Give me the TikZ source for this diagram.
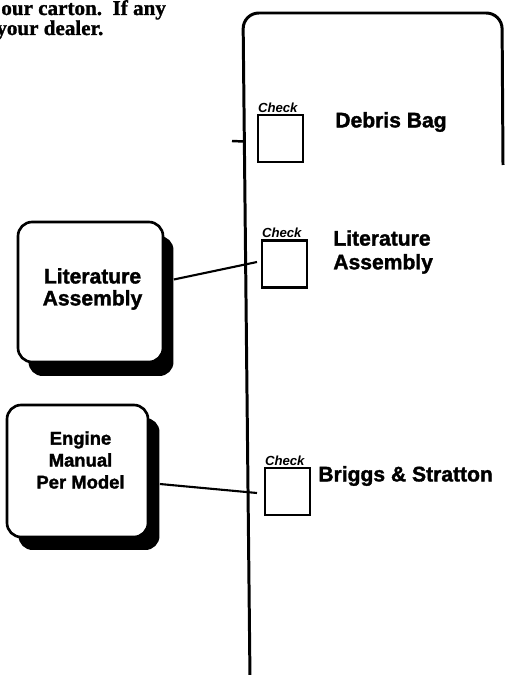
\documentclass[tikz,border=0pt]{standalone}
\usepackage{fontspec}
\setmainfont{Liberation Sans}[BoldFeatures={FakeBold=1.6}]
\newfontfamily\cartonfont{Liberation Serif}[BoldFeatures={FakeBold=1.2}]
\usetikzlibrary{positioning,calc}

\begin{document}
\begin{tikzpicture}[x=0.02cm, y=-0.02cm,
    carton/.style={font=\cartonfont\fontsize{12}{12}\selectfont\bfseries, inner sep=0pt, anchor=base west},
    chkbox/.style={draw, line width=1.4pt, minimum width=0.9cm, minimum height=0.94cm, inner sep=0pt},
    chktag/.style={font=\fontsize{7.5}{8}\selectfont\bfseries\itshape, inner sep=0.5pt, anchor=south west},
    partname/.style={font=\fontsize{12}{13.5}\selectfont\bfseries, align=left, anchor=west, inner sep=0pt},
    sheet/.style={draw, fill=white, line width=1.5pt, rounded corners=8pt, inner sep=0pt},
    sheetshadow/.style={fill=black, rounded corners=8pt, inner sep=0pt},
    sheettext/.style={align=center, inner sep=0pt},
    lead/.style={line width=1.2pt}]
%
    \useasboundingbox (0,0) rectangle (505,675);
%
    \node[carton] (line1) at (1,15) {our carton.\ \ If any};
    \node[carton] (line2) at (-4,35) {your dealer.};
%
    % parts panel
    \draw[line width=1.7pt, rounded corners=9pt] (250,680) -- (243,13) -- (502,13) -- (503,165);
    \draw[line width=1.4pt] (232,141) -- (243.5,141.5);
%
    \node[chkbox] (chkbag) at (280.5,138.5) {};
    \node[chktag] (tagbag) at (chkbag.north west) {Check};
    \node[partname] (bag) at (335,122) {Debris Bag};
%
    \node[chkbox] (chklit) at (284.5,264) {};
    \node[chktag] (taglit) at (chklit.north west) {Check};
    \node[partname] (lit) at (333,252) {Literature\\Assembly};
%
    \node[chkbox] (chkbs) at (287.5,491.5) {};
    \node[chktag] (tagbs) at (chkbs.north west) {Check};
    \node[partname] (bs) at (318,476) {Briggs \& Stratton};
%
    % loose items
    \node[sheetshadow, minimum width=2.9cm, minimum height=2.8cm] (litshadow) at (101,306) {};
    \node[sheet, minimum width=2.9cm, minimum height=2.8cm] (litsheet) at (90.5,292) {};
    \node[sheettext, font=\fontsize{12}{12.5}\selectfont\bfseries] (littext)
        at ($(litsheet.center)+(2,-3)$) {Literature\\Assembly};
%
    \node[sheetshadow, minimum width=2.82cm, minimum height=2.64cm] (engshadow) at (89,484) {};
    \node[sheet, minimum width=2.82cm, minimum height=2.64cm] (engsheet) at (77.5,471) {};
    \node[sheettext, font=\fontsize{10.5}{12.5}\selectfont\bfseries] (engtext)
        at ($(engsheet.center)+(3,-11)$) {Engine\\Manual\\Per Model};
%
    \coordinate (litend) at (257,262);
    \draw[lead] (litshadow.20) -- (litend);
    \coordinate (engend) at (257,493);
    \draw[lead] (engshadow.east) -- (engend);
\end{tikzpicture}
\end{document}
